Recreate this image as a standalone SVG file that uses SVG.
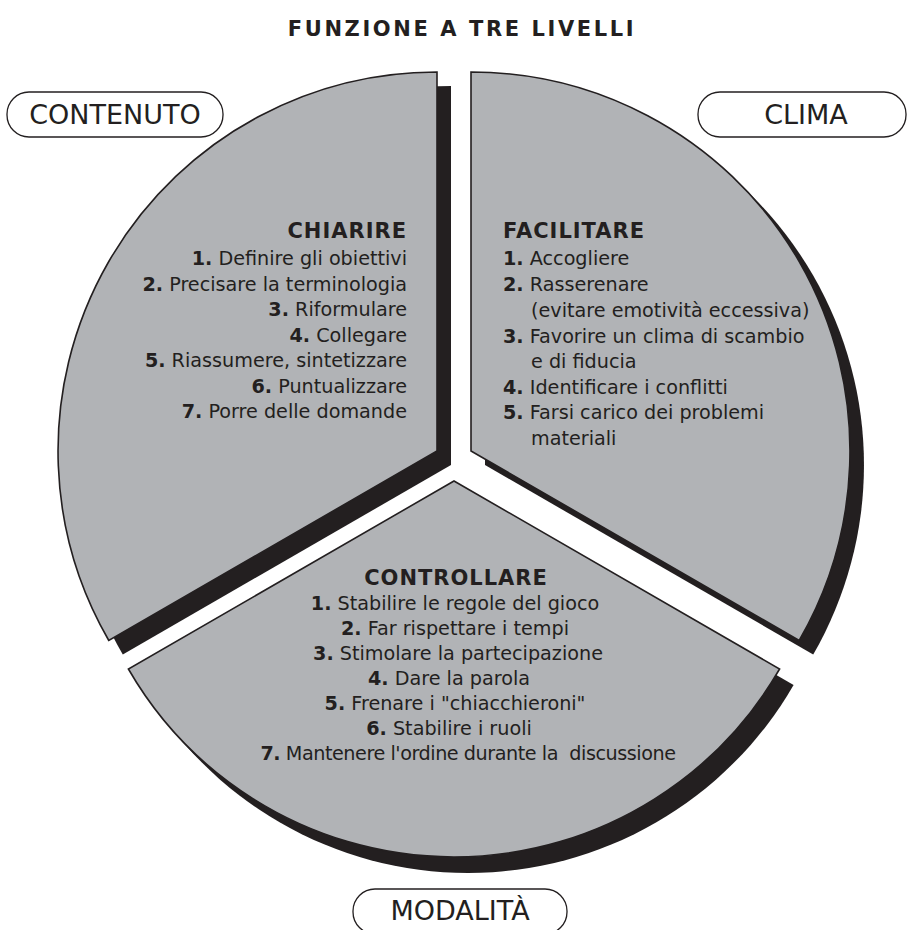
<svg xmlns="http://www.w3.org/2000/svg" width="909" height="930" viewBox="0 0 909 930">
<style>
.sec{fill:#b1b3b6;stroke:#231f20;stroke-width:1.6;stroke-linejoin:miter}
.sh{fill:#231f20}
.pill{fill:#ffffff;stroke:#231f20;stroke-width:1.3}
text{font-family:"DejaVu Sans",Verdana,sans-serif;fill:#231f20}
.lbl{font-size:27px;text-anchor:middle}
.title{font-size:21px;font-weight:bold;text-anchor:middle;letter-spacing:2.6px}
.hd{font-size:21px;font-weight:bold;letter-spacing:1px}
.it{font-size:19.2px}
.b{font-weight:bold}
</style>
<rect width="909" height="930" fill="#ffffff"/>
<text class="title" x="462" y="36">FUNZIONE A TRE LIVELLI</text>

<g id="sector-contenuto">
<path class="sh" transform="translate(14,14)" d="M437,451 L437,72 A379,379 0 0 0 108.8,640.5 Z"/>
<path class="sec" d="M437,451 L437,72 A379,379 0 0 0 108.8,640.5 Z"/>
<text class="hd" x="407" y="238" text-anchor="end">CHIARIRE</text>
<g class="it" text-anchor="end">
<text x="407" y="265"><tspan class="b">1.</tspan> Definire gli obiettivi</text>
<text x="407" y="291"><tspan class="b">2.</tspan> Precisare la terminologia</text>
<text x="407" y="316"><tspan class="b">3.</tspan> Riformulare</text>
<text x="407" y="342"><tspan class="b">4.</tspan> Collegare</text>
<text x="407" y="367"><tspan class="b">5.</tspan> Riassumere, sintetizzare</text>
<text x="407" y="393"><tspan class="b">6.</tspan> Puntualizzare</text>
<text x="407" y="418"><tspan class="b">7.</tspan> Porre delle domande</text>
</g>
</g>

<g id="sector-clima">
<path class="sh" transform="translate(14,14)" d="M471,451 L471,72 A379,379 0 0 1 799.2,640.5 Z"/>
<path class="sec" d="M471,451 L471,72 A379,379 0 0 1 799.2,640.5 Z"/>
<text class="hd" x="503" y="238">FACILITARE</text>
<g class="it">
<text x="503" y="265"><tspan class="b">1.</tspan> Accogliere</text>
<text x="503" y="291"><tspan class="b">2.</tspan> Rasserenare</text>
<text x="531" y="317">(evitare emotività eccessiva)</text>
<text x="503" y="343"><tspan class="b">3.</tspan> Favorire un clima di scambio</text>
<text x="531" y="368">e di fiducia</text>
<text x="503" y="394"><tspan class="b">4.</tspan> Identificare i conflitti</text>
<text x="503" y="419"><tspan class="b">5.</tspan> Farsi carico dei problemi</text>
<text x="531" y="445">materiali</text>
</g>
</g>

<g id="sector-modalita">
<path class="sh" transform="translate(14,16)" d="M454,481 L779.6,669 A376,376 0 0 1 128.4,669 Z"/>
<path class="sec" d="M454,481 L779.6,669 A376,376 0 0 1 128.4,669 Z"/>
<text class="hd" x="456" y="585" text-anchor="middle">CONTROLLARE</text>
<g class="it" text-anchor="middle">
<text x="455" y="610"><tspan class="b">1.</tspan> Stabilire le regole del gioco</text>
<text x="455" y="635"><tspan class="b">2.</tspan> Far rispettare i tempi</text>
<text x="458" y="660"><tspan class="b">3.</tspan> Stimolare la partecipazione</text>
<text x="449" y="685"><tspan class="b">4.</tspan> Dare la parola</text>
<text x="455" y="710"><tspan class="b">5.</tspan> Frenare i "chiacchieroni"</text>
<text x="449" y="735"><tspan class="b">6.</tspan> Stabilire i ruoli</text>
<text x="468" y="760" xml:space="preserve" letter-spacing="-0.45"><tspan class="b">7.</tspan> Mantenere l'ordine durante la  discussione</text>
</g>
</g>

<g id="label-contenuto">
<rect class="pill" x="7" y="92" width="216" height="45" rx="22" ry="22"/>
<text class="lbl" x="115" y="124">CONTENUTO</text>
</g>
<g id="label-clima">
<rect class="pill" x="698" y="92" width="208" height="45" rx="22" ry="22"/>
<text class="lbl" x="806" y="124">CLIMA</text>
</g>
<g id="label-modalita">
<rect class="pill" x="353" y="889" width="214" height="45" rx="22" ry="22"/>
<text class="lbl" x="460" y="920">MODALITÀ</text>
</g>
<g id="connectors"/>
</svg>
